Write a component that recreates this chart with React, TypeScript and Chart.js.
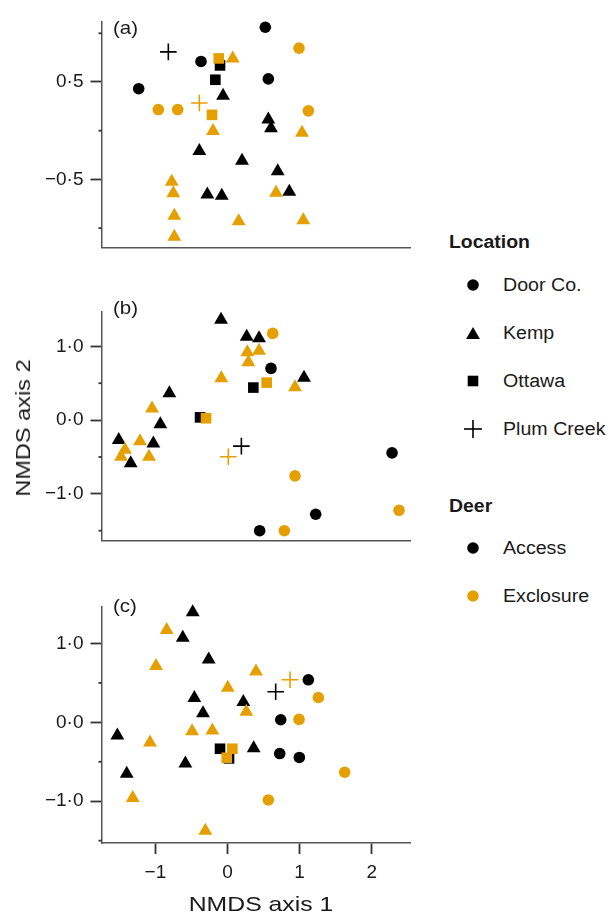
import React, { useEffect, useRef } from 'react';
import { Chart, registerables } from 'chart.js';

Chart.register(...registerables);

// ---------------- data ----------------
const xTickValues = [-1, 0, 1, 2];
const xTickLabels = ['−1', '0', '1', '2'];

const yMajorA = [-0.5, 0.5];
const yMajorLabelsA = ['−0·5', '0·5'];
const yMinorA = [-1, 0, 1];
const yMajorBC = [-1, 0, 1];
const yMajorLabelsBC = ['−1·0', '0·0', '1·0'];
const yMinorBC = [-1.5, -0.5, 0.5];

const locations = ['Door Co.', 'Kemp', 'Ottawa', 'Plum Creek'];
const deerLevels = ['Access', 'Exclosure'];

// Panel (a)
const aDoorAccess = [[0.524, 1.062], [-0.368, 0.711], [0.566, 0.532], [-1.232, 0.431]];
const aDoorExcl = [[0.992, 0.848], [-0.96, 0.217], [-0.691, 0.217], [1.121, 0.204]];
const aKempAccess = [[-0.062, 0.36], [0.566, 0.116], [0.603, 0.026], [-0.391, -0.209], [0.201, -0.309], [0.696, -0.417], [-0.28, -0.656], [-0.08, -0.668], [0.857, -0.627]];
const aKempExcl = [[0.072, 0.742], [-0.201, -0.003], [1.033, -0.022], [-0.774, -0.525], [-0.752, -0.643], [0.673, -0.636], [-0.738, -0.872], [0.155, -0.93], [1.051, -0.92], [-0.738, -1.088]];
const aOttawaAccess = [[-0.104, 0.67], [-0.169, 0.523]];
const aOttawaExcl = [[-0.122, 0.742], [-0.215, 0.163]];
const aPlumAccess = [[-0.821, 0.809]];
const aPlumExcl = [[-0.391, 0.284]];

// Panel (b)
const bDoorAccess = [[0.603, 0.701], [2.282, -0.445], [1.223, -1.277], [0.446, -1.5]];
const bDoorExcl = [[0.627, 1.176], [0.936, -0.756], [2.379, -1.223], [0.788, -1.5]];
const bKempAccess = [[-0.09, 1.361], [0.266, 1.13], [0.437, 1.109], [1.061, 0.575], [-0.807, 0.365], [-0.932, -0.055], [-1.509, -0.269], [-1.029, -0.316], [-1.343, -0.584]];
const bKempExcl = [[0.275, 0.919], [0.437, 0.941], [0.289, 0.786], [-0.086, 0.567], [0.936, 0.445], [-1.047, 0.156], [-1.214, -0.286], [-1.422, -0.403], [-1.477, -0.496], [-1.089, -0.496]];
const bOttawaAccess = [[-0.381, 0.037], [0.358, 0.441]];
const bOttawaExcl = [[-0.298, 0.025], [0.543, 0.508]];
const bPlumAccess = [[0.192, -0.353]];
const bPlumExcl = [[0.011, -0.496]];

// Panel (c)
const cDoorAccess = [[1.121, 0.539], [0.738, 0.033], [0.724, -0.396], [0.996, -0.445]];
const cDoorExcl = [[1.26, 0.315], [0.992, 0.037], [1.625, -0.633], [0.566, -0.984]];
const cKempAccess = [[-0.483, 1.396], [-0.621, 1.074], [-0.261, 0.796], [-0.46, 0.31], [0.219, 0.258], [-0.34, 0.114], [-1.528, -0.167], [0.363, -0.33], [-0.585, -0.522], [-1.398, -0.653]];
const cKempExcl = [[-0.844, 1.172], [-0.992, 0.715], [0.395, 0.645], [0.003, 0.437], [0.261, 0.135], [-0.492, -0.114], [-0.211, -0.102], [-1.075, -0.257], [-1.315, -0.96], [-0.308, -1.376]];
const cOttawaAccess = [[-0.104, -0.335], [0.021, -0.457]];
const cOttawaExcl = [[0.067, -0.335], [-0.011, -0.449]];
const cPlumAccess = [[0.668, 0.388]];
const cPlumExcl = [[0.867, 0.539]];

// ---------------- styling ----------------
const ACCESS_COLOR = '#000000';
const EXCL_COLOR = '#E69F00';
const FONT = '"Liberation Sans", Arial, Helvetica, sans-serif';
const AXIS_COLOR = '#555555';
const TICK_COLOR = '#333333';
const TEXT_COLOR = '#1a1a1a';

const X_MIN = -1.748;
const X_MAX = 2.531;
const AREA_LEFT = 101.5;
const AREA_RIGHT = 410;
const CANVAS_W = 420;

const STYLE_BY_LOCATION: Record<string, { style: string; radius: number }> = {
  'Door Co.': { style: 'circle', radius: 5.8 },
  Kemp: { style: 'triangle', radius: 8 },
  Ottawa: { style: 'rect', radius: 7.5 },
  'Plum Creek': { style: 'cross', radius: 8.3 },
};

type PanelDef = {
  id: string;
  label: string;
  labelY: number;
  areaTop: number;
  areaBottom: number;
  yMin: number;
  yMax: number;
  major: number[];
  majorLabels: string[];
  minor: number[];
  showX: boolean;
  access: number[][][];
  excl: number[][][];
};

const PANELS: PanelDef[] = [
  {
    id: 'a', label: '(a)', labelY: 27.8, areaTop: 13, areaBottom: 256, yMin: -1.2, yMax: 1.122,
    major: yMajorA, majorLabels: yMajorLabelsA, minor: yMinorA, showX: false,
    access: [aDoorAccess, aKempAccess, aOttawaAccess, aPlumAccess],
    excl: [aDoorExcl, aKempExcl, aOttawaExcl, aPlumExcl],
  },
  {
    id: 'b', label: '(b)', labelY: 308, areaTop: 303, areaBottom: 549, yMin: -1.634, yMax: 1.474,
    major: yMajorBC, majorLabels: yMajorLabelsBC, minor: yMinorBC, showX: false,
    access: [bDoorAccess, bKempAccess, bOttawaAccess, bPlumAccess],
    excl: [bDoorExcl, bKempExcl, bOttawaExcl, bPlumExcl],
  },
  {
    id: 'c', label: '(c)', labelY: 606, areaTop: 598, areaBottom: 843, yMin: -1.53, yMax: 1.47,
    major: yMajorBC, majorLabels: yMajorLabelsBC, minor: yMinorBC, showX: true,
    access: [cDoorAccess, cKempAccess, cOttawaAccess, cPlumAccess],
    excl: [cDoorExcl, cKempExcl, cOttawaExcl, cPlumExcl],
  },
];

const minorTickPlugin = {
  id: 'minorTicks',
  afterDraw(chart: any, _args: any, opts: any) {
    const y = chart.scales.y;
    const ctx = chart.ctx;
    ctx.save();
    ctx.strokeStyle = TICK_COLOR;
    ctx.lineWidth = 1.8;
    for (const v of opts.values || []) {
      const py = y.getPixelForValue(v);
      ctx.beginPath();
      ctx.moveTo(chart.chartArea.left - 3, py);
      ctx.lineTo(chart.chartArea.left, py);
      ctx.stroke();
    }
    ctx.restore();
  },
};

const PAD_TOP = 10;
const X_AXIS_H = 45;

function canvasHeight(p: PanelDef) {
  return PAD_TOP + (p.areaBottom - p.areaTop) + (p.showX ? X_AXIS_H : 0) + 10;
}

function makeDatasets(p: PanelDef) {
  const list: any[] = [];
  // Exclosure first so it is drawn on top (index 0 drawn last)
  const groups = [
    { series: p.excl, color: EXCL_COLOR, deer: deerLevels[1] },
    { series: p.access, color: ACCESS_COLOR, deer: deerLevels[0] },
  ];
  for (const g of groups) {
    g.series.forEach((pts, i) => {
      const loc = locations[i];
      const st = STYLE_BY_LOCATION[loc];
      list.push({
        label: `${loc} – ${g.deer}`,
        data: pts.map(([x, y]) => ({ x, y })),
        pointStyle: st.style,
        pointRadius: st.radius,
        pointHoverRadius: st.radius,
        backgroundColor: g.color,
        borderColor: g.color,
        borderWidth: st.style === 'cross' ? 1.6 : 0,
        pointBorderWidth: st.style === 'cross' ? 1.6 : 0,
        showLine: false,
        clip: false,
      });
    });
  }
  return list;
}

function PanelChart({ p }: { p: PanelDef }) {
  const ref = useRef<HTMLCanvasElement>(null);
  const h = canvasHeight(p);
  useEffect(() => {
    const chart = new Chart(ref.current as HTMLCanvasElement, {
      type: 'scatter',
      data: { datasets: makeDatasets(p) },
      plugins: [minorTickPlugin as any],
      options: {
        animation: false,
        responsive: false,
        devicePixelRatio: 1,
        layout: { padding: { left: 0, right: CANVAS_W - AREA_RIGHT, top: PAD_TOP, bottom: 10 } },
        plugins: {
          legend: { display: false },
          tooltip: { enabled: false },
          minorTicks: { values: p.minor },
        } as any,
        scales: {
          x: {
            type: 'linear',
            position: 'bottom',
            min: X_MIN,
            max: X_MAX,
            afterBuildTicks: (s: any) => {
              s.ticks = xTickValues.map((v) => ({ value: v }));
            },
            afterFit: (s: any) => {
              s.height = p.showX ? X_AXIS_H : 0;
            },
            grid: {
              display: true,
              drawOnChartArea: false,
              drawTicks: p.showX,
              tickLength: 11,
              tickColor: TICK_COLOR,
              tickWidth: 1.8,
            },
            border: { display: true, color: AXIS_COLOR, width: 1.5 },
            ticks: {
              display: p.showX,
              padding: 7,
              color: TEXT_COLOR,
              font: { family: FONT, size: 19 },
              maxRotation: 0,
              autoSkip: false,
              callback: (v: any) => xTickLabels[xTickValues.indexOf(Number(v))] ?? '',
            },
          },
          y: {
            type: 'linear',
            position: 'left',
            min: p.yMin,
            max: p.yMax,
            afterBuildTicks: (s: any) => {
              s.ticks = p.major.map((v) => ({ value: v }));
            },
            afterFit: (s: any) => {
              s.width = AREA_LEFT;
            },
            grid: {
              display: true,
              drawOnChartArea: false,
              drawTicks: true,
              tickLength: 11,
              tickColor: TICK_COLOR,
              tickWidth: 1.8,
            },
            border: { display: true, color: AXIS_COLOR, width: 1.5 },
            ticks: {
              padding: 7,
              color: TEXT_COLOR,
              font: { family: FONT, size: 19 },
              autoSkip: false,
              callback: (v: any) => p.majorLabels[p.major.indexOf(Number(v))] ?? '',
            },
          },
        },
      } as any,
    });
    return () => chart.destroy();
  }, [p]);
  return (
    <canvas
      ref={ref}
      width={CANVAS_W}
      height={h}
      style={{ position: 'absolute', left: 0, top: p.areaTop - PAD_TOP, width: CANVAS_W, height: h }}
    />
  );
}

function Symbol({ kind, color }: { kind: string; color: string }) {
  return (
    <svg width={24} height={24} viewBox="-12 -12 24 24" style={{ display: 'block' }}>
      {kind === 'circle' && <circle cx={0} cy={0} r={5.8} fill={color} />}
      {kind === 'triangle' && <polygon points="0,-8 6.93,4 -6.93,4" fill={color} transform="translate(0,2)" />}
      {kind === 'rect' && <rect x={-5.3} y={-5.3} width={10.6} height={10.6} fill={color} />}
      {kind === 'cross' && (
        <g stroke={color} strokeWidth={1.6}>
          <line x1={-9} y1={0} x2={9} y2={0} />
          <line x1={0} y1={-9} x2={0} y2={9} />
        </g>
      )}
    </svg>
  );
}

const textBase: React.CSSProperties = {
  position: 'absolute',
  fontFamily: FONT,
  color: TEXT_COLOR,
  whiteSpace: 'nowrap',
  lineHeight: '20px',
};

function LegendRow({ y, label, kind, color }: { y: number; label: string; kind: string; color: string }) {
  return (
    <>
      <div style={{ position: 'absolute', left: 472.7 - 12, top: y - 12 }}>
        <Symbol kind={kind} color={color} />
      </div>
      <div style={{ ...textBase, left: 503, top: y - 10, fontSize: 18, transform: 'scaleX(1.09)', transformOrigin: 'left center' }}>
        {label}
      </div>
    </>
  );
}

export default function App() {
  const locY = [285, 333, 381, 429];
  const deerY = [548, 596];
  const kinds = ['circle', 'triangle', 'rect', 'cross'];
  return (
    <div style={{ position: 'absolute', left: 0, top: 0, width: 608, height: 916, background: '#ffffff', overflow: 'hidden' }}>
      {PANELS.map((p) => (
        <PanelChart key={p.id} p={p} />
      ))}
      {PANELS.map((p) => (
        <div key={'l' + p.id} style={{ ...textBase, left: 113, top: p.labelY - 10, fontSize: 19, transform: 'scaleX(1.08)', transformOrigin: 'left center' }}>
          {p.label}
        </div>
      ))}
      {/* axis titles */}
      <div
        style={{
          ...textBase,
          left: 260.6,
          top: 904,
          fontSize: 21,
          lineHeight: '22px',
          transform: 'translate(-50%, -50%) scaleX(1.18)',
        }}
      >
        NMDS axis 1
      </div>
      <div
        style={{
          ...textBase,
          left: 22.5,
          top: 428,
          fontSize: 21,
          lineHeight: '22px',
          transform: 'translate(-50%, -50%) rotate(-90deg) scaleX(1.12)',
        }}
      >
        NMDS axis 2
      </div>
      {/* legend */}
      <div style={{ ...textBase, left: 449, top: 241.7 - 10, fontSize: 18, fontWeight: 'bold', transform: 'scaleX(1.08)', transformOrigin: 'left center' }}>
        Location
      </div>
      {locations.map((loc, i) => (
        <LegendRow key={loc} y={locY[i]} label={loc} kind={kinds[i]} color={ACCESS_COLOR} />
      ))}
      <div style={{ ...textBase, left: 449, top: 506.3 - 10, fontSize: 18, fontWeight: 'bold', transform: 'scaleX(1.08)', transformOrigin: 'left center' }}>
        Deer
      </div>
      <LegendRow y={deerY[0]} label={deerLevels[0]} kind="circle" color={ACCESS_COLOR} />
      <LegendRow y={deerY[1]} label={deerLevels[1]} kind="circle" color={EXCL_COLOR} />
    </div>
  );
}
